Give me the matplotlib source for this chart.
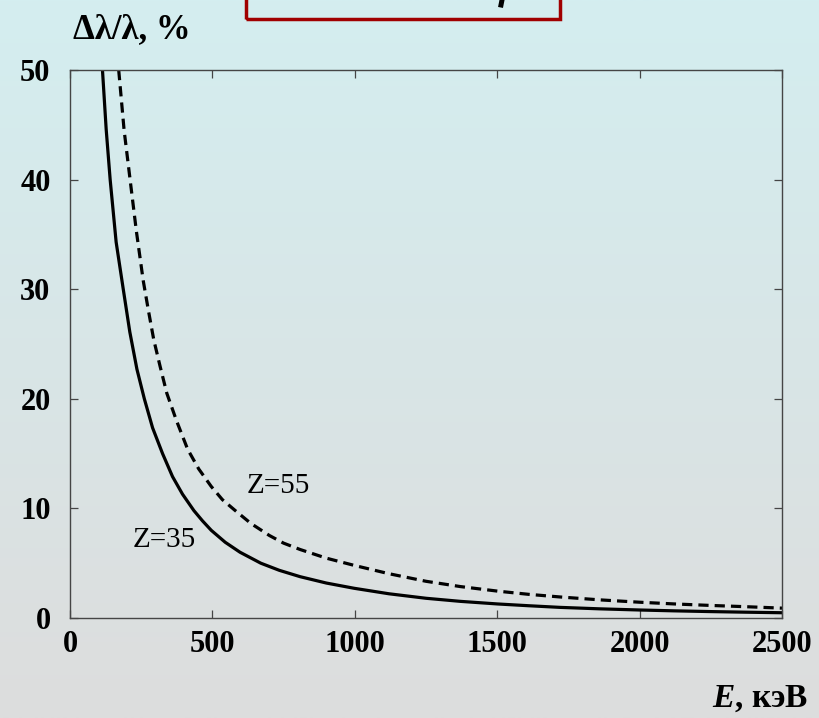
"""
plot.py
Relative line width vs photon energy for two Z values.
"""

import numpy as np
import matplotlib.pyplot as plt
from matplotlib.patches import Rectangle
from matplotlib.lines import Line2D
from matplotlib.colors import LinearSegmentedColormap

# ------------------------------------------------------------------------
# Data
# ------------------------------------------------------------------------
energy_z35 = [114, 127, 141, 162, 187, 210, 235, 261, 290, 325, 360, 395,
              435, 465, 496, 545, 597, 670, 735, 808, 900, 998, 1120, 1250,
              1370, 1502, 1610, 1720, 1860, 2000, 2120, 2250, 2370, 2500]
ratio_z35 = [50, 44.6, 40, 34.3, 30, 26.1, 22.7, 20, 17.35, 15, 12.9, 11.3,
             9.8, 8.87, 8, 6.91, 6, 5, 4.35, 3.77, 3.19, 2.71, 2.21, 1.8,
             1.52, 1.28, 1.12, 0.97, 0.836, 0.73, 0.654, 0.585, 0.531, 0.48]

energy_z55 = [171, 190, 211, 233, 257, 275, 294, 316, 340, 374, 413, 452,
              496, 535, 578, 635, 700, 750, 808, 900, 998, 1120, 1250,
              1370, 1502, 1610, 1720, 1860, 2000, 2120, 2250, 2370, 2500]
ratio_z55 = [50, 44.5, 40, 35.3, 30.8, 28.1, 25.4, 23.0, 20.5, 18.0, 15.4,
             13.6, 12, 10.8, 9.85, 8.63, 7.53, 6.83, 6.25, 5.46, 4.8, 4.04,
             3.35, 2.87, 2.45, 2.16, 1.92, 1.655, 1.44, 1.285, 1.145, 1.034,
             0.9]

x_ticks = [0, 500, 1000, 1500, 2000, 2500]
y_ticks = [0, 10, 20, 30, 40, 50]

plt.rcParams['font.family'] = ['Liberation Serif', 'DejaVu Serif']
plt.rcParams['mathtext.fontset'] = 'custom'
plt.rcParams['mathtext.rm'] = 'Liberation Serif:bold'
plt.rcParams['mathtext.bfit'] = 'Liberation Serif:italic:bold'
plt.rcParams['mathtext.it'] = 'Liberation Serif:italic:bold'

fig = plt.figure(figsize=(8.19, 7.18), dpi=100)

# gradient background over the whole figure
bg = fig.add_axes([0, 0, 1, 1], zorder=-10)
cmap = LinearSegmentedColormap.from_list('bg', ['#d4eef0', '#dddddd'])
bg.imshow(np.linspace(0, 1, 256).reshape(-1, 1), aspect='auto', cmap=cmap,
          extent=[0, 1, 0, 1])
bg.set_axis_off()

ax = fig.add_axes([70 / 819, 1 - 618 / 718, 712 / 819, 548 / 718])
ax.set_facecolor('none')

ax.plot(energy_z35, ratio_z35, color='black', lw=2.3, solid_joinstyle='round')
ax.plot(energy_z55, ratio_z55, color='black', lw=2.3, dashes=(3.2, 1.9))

ax.text(621, 12.0, 'Z=55', fontsize=21, va='center', ha='left')
ax.text(221, 7.1, 'Z=35', fontsize=21, va='center', ha='left')

ax.set_xlim(0, 2500)
ax.set_ylim(0, 50)
ax.set_xticks(x_ticks)
ax.set_yticks(y_ticks)
for spine in ax.spines.values():
    spine.set_color('#454545')
    spine.set_linewidth(1.0)
ax.tick_params(direction='in', length=6, width=0.9, color='#454545',
               top=True, right=True, labelsize=22)
ax.tick_params(axis='x', pad=9)
ax.tick_params(axis='y', pad=14)
for lbl in ax.get_xticklabels() + ax.get_yticklabels():
    lbl.set_fontweight('bold')

fig.text(73 / 819, 1 - 38 / 718, 'Δλ/λ, %', fontsize=25, fontweight='bold',
         ha='left', va='baseline')
fig.text(808 / 819, 1 - 707 / 718, r'$\mathbfit{E}$, кэВ', fontsize=24,
         fontweight='bold', ha='right', va='baseline')

# cut-off title frame at the top, with the tail of a letter poking out
fig.patches.append(Rectangle((246 / 819, 1 - 19 / 718), 314 / 819, 0.1,
                             transform=fig.transFigure, fill=False,
                             edgecolor='#a00000', linewidth=2.5))
fig.lines.append(Line2D([502 / 819, 501 / 819], [1.0, 1 - 5 / 718],
                        transform=fig.transFigure, color='black', lw=3.6))

plt.savefig('out.png', dpi=100)
